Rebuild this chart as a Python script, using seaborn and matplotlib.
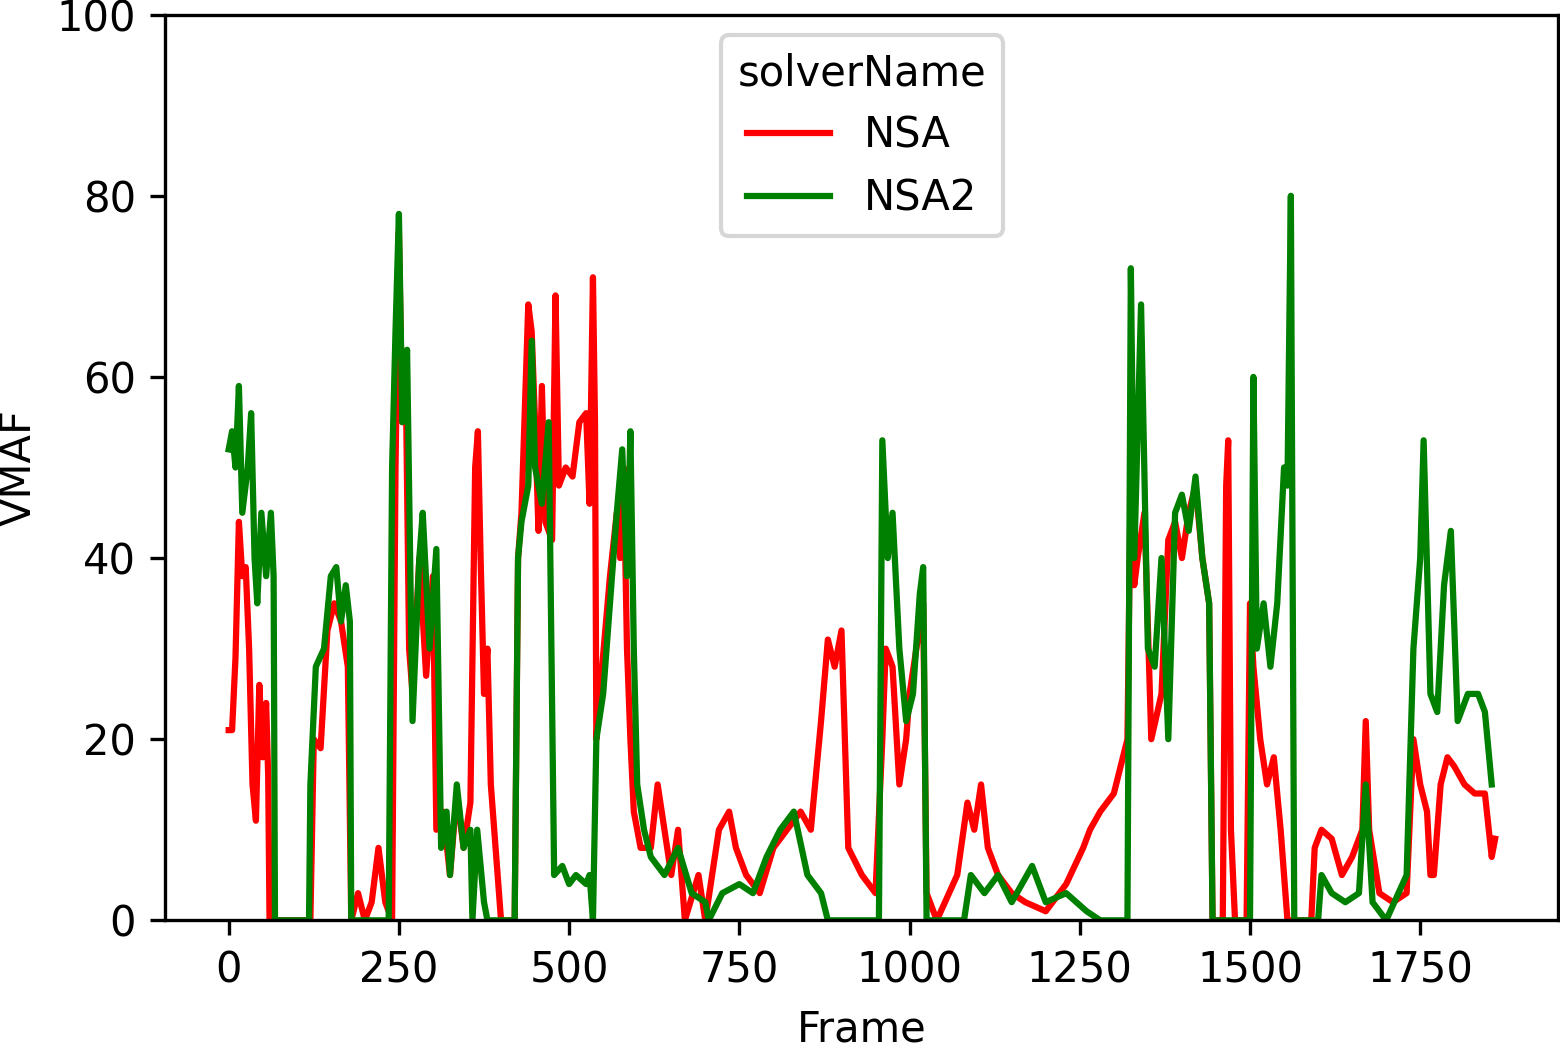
import pandas as pd
import seaborn as sns
import matplotlib.pyplot as plt

# NSA (red) keypoints: frame, VMAF
nsa_frame = [0, 5, 10, 15, 20, 25, 30, 35, 40, 45, 50, 55, 58, 60, 120, 125, 135, 145, 155, 165, 175, 180, 190, 200, 210, 220, 230, 240, 245, 250, 255, 260, 265, 270, 280, 290, 300, 305, 315, 325, 335, 345, 355, 362, 366, 370, 375, 380, 385, 390, 395, 400, 420, 425, 430, 440, 445, 450, 455, 460, 465, 475, 480, 485, 495, 505, 515, 525, 530, 535, 538, 540, 545, 560, 570, 575, 580, 585, 590, 595, 605, 620, 630, 640, 650, 660, 670, 690, 700, 720, 735, 745, 760, 780, 800, 820, 840, 855, 870, 880, 890, 900, 910, 930, 950, 960, 965, 975, 985, 995, 1000, 1010, 1020, 1025, 1030, 1040, 1070, 1085, 1095, 1105, 1115, 1130, 1150, 1170, 1200, 1230, 1255, 1265, 1280, 1300, 1320, 1325, 1330, 1335, 1345, 1355, 1370, 1380, 1390, 1400, 1410, 1420, 1430, 1440, 1445, 1460, 1465, 1468, 1472, 1478, 1495, 1500, 1505, 1515, 1525, 1535, 1545, 1555, 1590, 1595, 1605, 1620, 1635, 1650, 1665, 1670, 1675, 1690, 1710, 1730, 1740, 1750, 1760, 1765, 1770, 1780, 1790, 1800, 1815, 1830, 1845, 1855, 1860]
nsa_vmaf = [21, 21, 29, 44, 38, 39, 30, 15, 11, 26, 18, 24, 16, 0, 0, 20, 19, 32, 35, 33, 28, 0, 3, 0, 2, 8, 2, 0, 50, 76, 55, 60, 30, 25, 40, 27, 38, 10, 12, 5, 14, 8, 13, 50, 54, 40, 25, 30, 15, 10, 5, 0, 0, 40, 45, 68, 65, 55, 43, 59, 44, 42, 69, 48, 50, 49, 55, 56, 46, 71, 55, 20, 25, 38, 45, 40, 50, 30, 20, 12, 8, 8, 15, 10, 5, 10, 0, 5, 0, 10, 12, 8, 5, 3, 8, 10, 12, 10, 22, 31, 28, 32, 8, 5, 3, 20, 30, 28, 15, 20, 25, 30, 35, 3, 2, 0, 5, 13, 10, 15, 8, 5, 3, 2, 1, 4, 8, 10, 12, 14, 20, 50, 37, 40, 45, 20, 25, 42, 44, 40, 45, 48, 40, 35, 0, 0, 48, 53, 10, 0, 0, 35, 28, 20, 15, 18, 10, 0, 0, 8, 10, 9, 5, 7, 10, 22, 10, 3, 2, 3, 20, 15, 12, 5, 5, 15, 18, 17, 15, 14, 14, 7, 9]

# NSA2 (green) keypoints
nsa2_frame = [0, 5, 10, 15, 20, 28, 33, 38, 42, 48, 55, 62, 66, 68, 118, 120, 128, 140, 150, 158, 165, 172, 178, 180, 235, 240, 245, 250, 255, 262, 270, 280, 285, 295, 305, 312, 320, 325, 335, 345, 355, 358, 365, 375, 380, 420, 425, 430, 440, 445, 450, 460, 470, 478, 490, 500, 510, 525, 530, 535, 540, 550, 560, 570, 578, 585, 590, 595, 600, 610, 620, 640, 660, 680, 700, 705, 725, 750, 770, 790, 810, 830, 850, 870, 880, 955, 960, 968, 975, 985, 995, 1005, 1015, 1020, 1025, 1080, 1090, 1110, 1130, 1150, 1180, 1200, 1230, 1260, 1280, 1320, 1325, 1330, 1340, 1350, 1360, 1370, 1380, 1390, 1400, 1410, 1420, 1430, 1440, 1445, 1500, 1505, 1510, 1520, 1530, 1540, 1550, 1555, 1560, 1565, 1600, 1605, 1620, 1640, 1660, 1670, 1680, 1700, 1730, 1740, 1750, 1755, 1765, 1775, 1785, 1795, 1805, 1820, 1835, 1845, 1855]
nsa2_vmaf = [52, 54, 50, 59, 45, 50, 56, 40, 35, 45, 38, 45, 38, 0, 0, 15, 28, 30, 38, 39, 33, 37, 33, 0, 0, 50, 65, 78, 55, 63, 22, 40, 45, 30, 41, 8, 12, 5, 15, 8, 10, 0, 10, 2, 0, 0, 40, 44, 48, 64, 50, 46, 55, 5, 6, 4, 5, 4, 5, 0, 20, 25, 35, 45, 52, 38, 54, 30, 15, 10, 7, 5, 8, 3, 2, 0, 3, 4, 3, 7, 10, 12, 5, 3, 0, 0, 53, 40, 45, 30, 22, 25, 36, 39, 0, 0, 5, 3, 5, 2, 6, 2, 3, 1, 0, 0, 72, 40, 68, 30, 28, 40, 20, 45, 47, 43, 49, 40, 35, 0, 0, 60, 30, 35, 28, 35, 50, 48, 80, 0, 0, 5, 3, 2, 3, 15, 2, 0, 5, 30, 40, 53, 25, 23, 37, 43, 22, 25, 25, 23, 15]

df = pd.concat([
    pd.DataFrame({'Frame': nsa_frame, 'VMAF': nsa_vmaf, 'solverName': 'NSA'}),
    pd.DataFrame({'Frame': nsa2_frame, 'VMAF': nsa2_vmaf, 'solverName': 'NSA2'}),
])

fig, ax = plt.subplots(figsize=(5.2, 3.49), dpi=300)
sns.lineplot(data=df, x='Frame', y='VMAF', hue='solverName',
             palette={'NSA': 'red', 'NSA2': 'green'}, ax=ax)
ax.set_ylim(0, 100)
ax.set_xticks(range(0, 2000, 250))
sns.move_legend(ax, 'upper center')
fig.subplots_adjust(left=0.106, right=0.999, top=0.986, bottom=0.121)
fig.savefig('out.png', dpi=300)
